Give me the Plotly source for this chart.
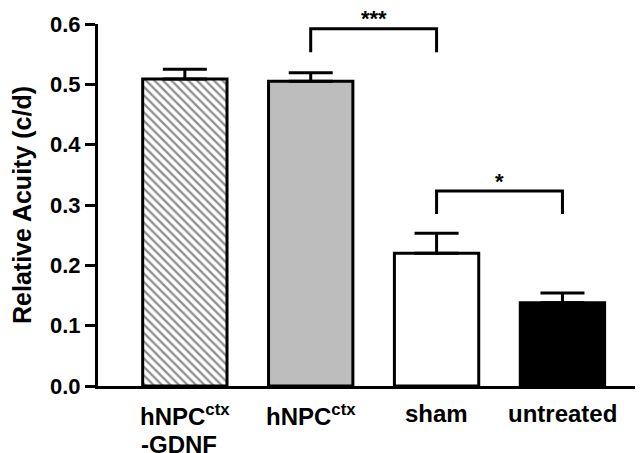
import plotly.graph_objects as go

# ---- data ----
categories = ["hNPCctx-GDNF", "hNPCctx", "sham", "untreated"]
cat_label_lines = [["hNPC<sup>ctx</sup>", "-GDNF"], ["hNPC<sup>ctx</sup>"], ["sham"], ["untreated"]]
means = [0.509, 0.505, 0.220, 0.138]
sem = [0.016, 0.014, 0.033, 0.016]
bar_colors = ["white", "#bdbdbd", "white", "black"]
bar_patterns = ["\\", "", "", ""]

# significance brackets: (left index, right index, top value, leg bottom value, label)
brackets_left = [1, 2]
brackets_right = [2, 3]
brackets_top = [0.592, 0.323]
brackets_bottom = [0.553, 0.285]
brackets_label = ["***", "*"]

y_ticks = [0.0, 0.1, 0.2, 0.3, 0.4, 0.5, 0.6]

FONT = "Liberation Sans"
xpos = list(range(len(categories)))

fig = go.Figure()
for i in xpos:
    marker = dict(color=bar_colors[i], line=dict(color="black", width=3))
    if bar_patterns[i]:
        marker["pattern"] = dict(shape=bar_patterns[i], fgcolor="#222222",
                                 bgcolor="white", size=6, solidity=0.4)
    fig.add_trace(go.Bar(
        x=[xpos[i]],
        y=[means[i]],
        width=0.67,
        marker=marker,
        error_y=dict(type="data", symmetric=False, array=[sem[i]],
                     arrayminus=[0], color="black", thickness=3, width=22),
        showlegend=False,
        hoverinfo="skip",
    ))

annotations = []
for l, r, top, bot, lab in zip(brackets_left, brackets_right, brackets_top,
                               brackets_bottom, brackets_label):
    fig.add_trace(go.Scatter(
        x=[xpos[l], xpos[l], xpos[r], xpos[r]],
        y=[bot, top, top, bot],
        mode="lines",
        line=dict(color="black", width=3),
        showlegend=False, hoverinfo="skip", cliponaxis=False,
    ))
    annotations.append(dict(
        x=(xpos[l] + xpos[r]) / 2, y=top, xref="x", yref="y",
        text=lab, showarrow=False, yanchor="middle", yshift=10,
        font=dict(family=FONT, size=22, color="black", weight="bold"),
    ))

label_font = dict(family=FONT, size=24, color="black", weight="bold")
for i, lines in enumerate(cat_label_lines):
    for k, line in enumerate(lines):
        if k == 0:
            annotations.append(dict(
                x=xpos[i], y=0, xref="x", yref="paper", text=line, showarrow=False,
                xanchor="center", yanchor="top", yshift=-12, font=label_font,
            ))
        else:
            # continuation lines are left-aligned with the first line
            annotations.append(dict(
                x=xpos[i], y=0, xref="x", yref="paper", text=line, showarrow=False,
                xanchor="left", yanchor="top", xshift=-46, yshift=-12 - 31 * k,
                font=label_font,
            ))

# the page body adds an 8 px offset, so the figure is drawn 8 px smaller
fig.update_layout(
    width=635, height=445,
    margin=dict(l=90, r=0, t=16, b=67),
    paper_bgcolor="white", plot_bgcolor="white",
    barmode="overlay",
    annotations=annotations,
    xaxis=dict(
        range=[-0.69, 3.64], showline=True, linecolor="black", linewidth=3,
        showticklabels=False, ticks="", showgrid=False, zeroline=False,
    ),
    yaxis=dict(
        range=[0, 0.6], tickvals=y_ticks, tickformat=".1f",
        showline=True, linecolor="black", linewidth=3,
        ticks="outside", ticklen=10, tickwidth=3, tickcolor="black",
        showgrid=False, zeroline=False,
        tickfont=dict(family=FONT, size=22, color="black", weight="bold"),
        title=dict(text="Relative Acuity (c/d)", standoff=12,
                   font=dict(family=FONT, size=25, color="black", weight="bold")),
        automargin=False,
    ),
)

fig.write_html("out.html")
